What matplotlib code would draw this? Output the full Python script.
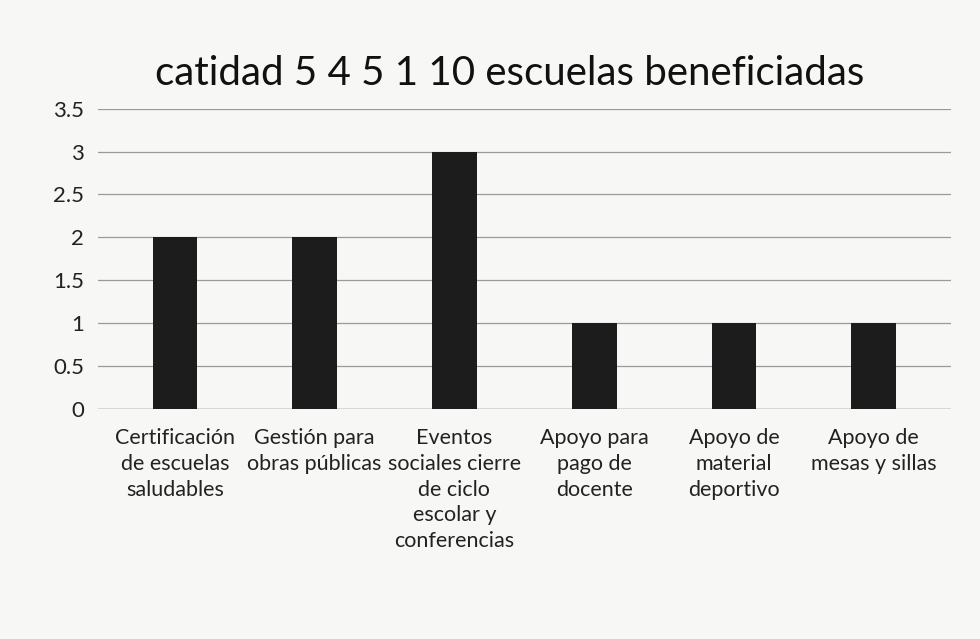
import matplotlib
matplotlib.use("Agg")
import matplotlib.pyplot as plt

categories = [
    "Certificación\nde escuelas\nsaludables",
    "Gestión para\nobras públicas",
    "Eventos\nsociales cierre\nde ciclo\nescolar y\nconferencias",
    "Apoyo para\npago de\ndocente",
    "Apoyo de\nmaterial\ndeportivo",
    "Apoyo de\nmesas y sillas",
]
values = [2.0, 2.0, 3.0, 1.0, 1.0, 1.0]
yticks = [0, 0.5, 1, 1.5, 2, 2.5, 3, 3.5]
title = "catidad 5 4 5 1 10 escuelas beneficiadas"

plt.rcParams['font.family'] = ['Lato', 'DejaVu Sans']

fig = plt.figure(figsize=(9.8, 6.39), dpi=100, facecolor="#f7f7f5")
ax = fig.add_axes([0.10, 0.36, 0.87, 0.47])
ax.set_facecolor("#f7f7f5")

x = range(len(categories))
ax.bar(x, values, width=0.32, color="#1c1c1c", zorder=3)

ax.set_ylim(0, 3.5)
ax.set_yticks(yticks)
ax.set_yticklabels([f"{t:g}" for t in yticks], fontsize=16, color="#222222")
ax.set_xlim(-0.55, len(categories) - 0.45)
ax.set_xticks(list(x))
ax.set_xticklabels(categories, fontsize=15.5, color="#222222", va="top", linespacing=1.35)
ax.tick_params(axis="y", length=0, pad=10)
ax.tick_params(axis="x", length=0, pad=14)
ax.grid(axis="y", color="#9a9a9a", linewidth=0.9, zorder=0)
for s in ax.spines.values():
    s.set_visible(False)
ax.axhline(0, color="#8a8a8a", linewidth=1.0, zorder=2)

fig.text(0.52, 0.885, title, ha="center", va="center", fontsize=29, color="#111111")

fig.savefig("out.png", dpi=100, facecolor=fig.get_facecolor())
